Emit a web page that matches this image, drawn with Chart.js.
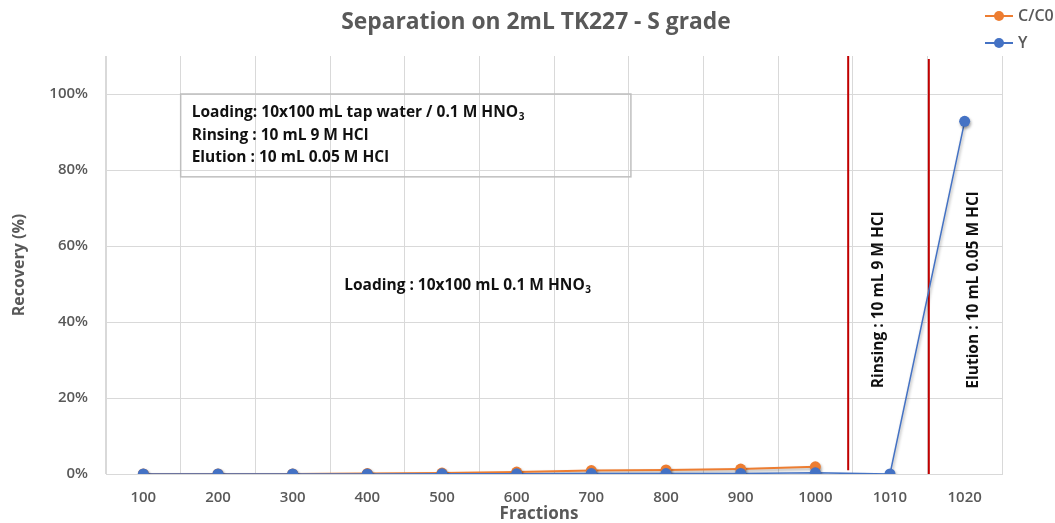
<!DOCTYPE html>
<html>
<head>
<meta charset="utf-8">
<script src="https://cdn.jsdelivr.net/npm/chart.js@4"></script>
<style>
  html, body { margin: 0; padding: 0; background: #ffffff; }
  #wrap { width: 1055px; height: 523px; }
</style>
</head>
<body>
<div id="wrap"><canvas id="c" width="1055" height="523"></canvas></div>
<script>
// ---- data ----
const categories = ['100', '200', '300', '400', '500', '600', '700', '800', '900', '1000', '1010', '1020'];
const ccoValues = [0, 0, 0, 0.001, 0.0025, 0.005, 0.009, 0.0105, 0.013, 0.019, null, null];
const yValues   = [0, 0, 0, 0, 0.0005, 0.0005, 0.001, 0.001, 0.0015, 0.003, 0, 0.928];
const yTicks = [0, 0.2, 0.4, 0.6, 0.8, 1.0];
const seriesNames = ['C/C0', 'Y'];

// annotation content (positions in data units)
const separatorX = [9.44, 10.52];
const separatorYTop = [1.1, 1.092];
const separatorYBottom = [0.01, 0];
const boxLines = [
  ['Loading: 10x100 mL tap water / 0.1 M HNO', '3'],
  ['Rinsing : 10 mL 9 M HCl', ''],
  ['Elution : 10 mL 0.05 M HCl', '']
];
const boxX = [0.5, 6.53];
const boxY = [1.0, 0.782];
const centerLabel = ['Loading : 10x100 mL 0.1 M HNO', '3'];
const centerLabelPos = [2.69, 0.497];
const stageLabels = ['Rinsing : 10 mL 9 M HCl', 'Elution : 10 mL 0.05 M HCl'];
const stageLabelX = [9.85, 11.12];
const stageLabelY = [0.458, 0.484];

const FONT = "'Open Sans', 'DejaVu Sans', sans-serif";
const ORANGE = '#ed7d31';
const BLUE = '#4472c4';
const GREY = '#595959';
const ANN_SIZE = 15.5;

Chart.defaults.font.family = FONT;

function drawWithSub(ctx, text, sub, x, y, size) {
  ctx.font = 'bold ' + size + 'px ' + FONT;
  ctx.fillText(text, x, y);
  if (sub) {
    const w = ctx.measureText(text).width;
    ctx.font = 'bold ' + Math.round(size * 0.65) + 'px ' + FONT;
    ctx.fillText(sub, x + w + 0.5, y + size * 0.3);
  }
}

const annotations = {
  id: 'annotations',
  beforeDatasetsDraw(chart) {
    const ctx = chart.ctx;
    const xs = chart.scales.x, ys = chart.scales.y;
    ctx.save();
    // red separators
    ctx.strokeStyle = '#c00000';
    ctx.lineWidth = 2;
    separatorX.forEach((v, i) => {
      const px = xs.getPixelForValue(v);
      ctx.beginPath();
      ctx.moveTo(px, ys.getPixelForValue(separatorYTop[i]));
      ctx.lineTo(px, ys.getPixelForValue(separatorYBottom[i]));
      ctx.stroke();
    });
    // text box
    const bx0 = xs.getPixelForValue(boxX[0]), bx1 = xs.getPixelForValue(boxX[1]);
    const by0 = ys.getPixelForValue(boxY[0]), by1 = ys.getPixelForValue(boxY[1]);
    ctx.strokeStyle = '#bfbfbf';
    ctx.lineWidth = 1.5;
    ctx.strokeRect(bx0, by0, bx1 - bx0, by1 - by0);
    ctx.fillStyle = '#111111';
    ctx.textAlign = 'left';
    ctx.textBaseline = 'middle';
    boxLines.forEach((ln, i) => {
      drawWithSub(ctx, ln[0], ln[1], bx0 + 11, by0 + 19 + i * 22.5, ANN_SIZE);
    });
    // central label
    drawWithSub(ctx, centerLabel[0], centerLabel[1],
      xs.getPixelForValue(centerLabelPos[0]), ys.getPixelForValue(centerLabelPos[1]), ANN_SIZE);
    // rotated stage labels
    ctx.textAlign = 'center';
    stageLabels.forEach((t, i) => {
      ctx.save();
      ctx.translate(xs.getPixelForValue(stageLabelX[i]), ys.getPixelForValue(stageLabelY[i]));
      ctx.rotate(-Math.PI / 2);
      ctx.font = 'bold ' + ANN_SIZE + 'px ' + FONT;
      ctx.fillText(t, 0, 0);
      ctx.restore();
    });
    ctx.restore();
  },
  beforeDatasetDraw(chart) {
    const ctx = chart.ctx;
    ctx.save();
    ctx.shadowColor = 'rgba(0,0,0,0.35)';
    ctx.shadowBlur = 3;
    ctx.shadowOffsetX = 1;
    ctx.shadowOffsetY = 2;
  },
  afterDatasetDraw(chart) {
    chart.ctx.restore();
  },
  afterDraw(chart) {
    const ctx = chart.ctx;
    ctx.save();
    // title
    ctx.fillStyle = GREY;
    ctx.font = 'bold 22.8px ' + FONT;
    ctx.textAlign = 'center';
    ctx.textBaseline = 'middle';
    ctx.fillText('Separation on 2mL TK227 - S grade', 536, 23);
    // x axis title
    ctx.font = 'bold 17px ' + FONT;
    ctx.fillText('Fractions', 539, 514);
    // legend
    const colors = [ORANGE, BLUE];
    seriesNames.forEach((n, i) => {
      const y = 16 + i * 27;
      ctx.strokeStyle = colors[i];
      ctx.lineWidth = 2;
      ctx.beginPath();
      ctx.moveTo(985, y);
      ctx.lineTo(1013, y);
      ctx.stroke();
      ctx.fillStyle = colors[i];
      ctx.beginPath();
      ctx.arc(999, y, 5, 0, Math.PI * 2);
      ctx.fill();
      ctx.fillStyle = GREY;
      ctx.font = '600 16px ' + FONT;
      ctx.textAlign = 'left';
      ctx.fillText(n, 1018, y);
    });
    ctx.restore();
  }
};

new Chart(document.getElementById('c'), {
  type: 'line',
  data: {
    labels: categories,
    datasets: [
      {
        label: seriesNames[0], data: ccoValues, order: 1,
        borderColor: ORANGE, backgroundColor: ORANGE, borderWidth: 2,
        pointRadius: 5.5, pointBorderWidth: 0, pointBackgroundColor: ORANGE,
        tension: 0, spanGaps: false
      },
      {
        label: seriesNames[1], data: yValues, order: 0,
        borderColor: BLUE, backgroundColor: BLUE, borderWidth: 1.5,
        pointRadius: 5.5, pointBorderWidth: 0, pointBackgroundColor: BLUE,
        tension: 0
      }
    ]
  },
  options: {
    responsive: false,
    animation: false,
    devicePixelRatio: 1,
    layout: { padding: { left: 0, right: 53, top: 56, bottom: 0 } },
    plugins: {
      legend: { display: false },
      title: { display: false },
      tooltip: { enabled: false }
    },
    scales: {
      x: {
        offset: true,
        grid: { offset: true, color: '#d9d9d9', drawTicks: false },
        border: { color: '#d9d9d9' },
        ticks: { color: GREY, font: { size: 15, weight: '600' }, padding: 15, autoSkip: false, maxRotation: 0 },
        title: { display: false },
        afterFit: s => { s.height = 49; }
      },
      y: {
        min: 0, max: 1.1,
        afterBuildTicks: s => { s.ticks = yTicks.map(v => ({ value: v })); },
        ticks: { color: GREY, font: { size: 15, weight: '600' }, padding: 18,
                 callback: v => Math.round(v * 100) + '%' },
        grid: { color: '#d9d9d9', drawTicks: false },
        border: { color: '#d9d9d9' },
        title: { display: true, text: 'Recovery (%)', color: GREY,
                 font: { size: 16, weight: 'bold' }, padding: { top: 10, bottom: 0 } },
        afterFit: s => { s.width = 106; }
      }
    }
  },
  plugins: [annotations]
});
</script>
</body>
</html>
